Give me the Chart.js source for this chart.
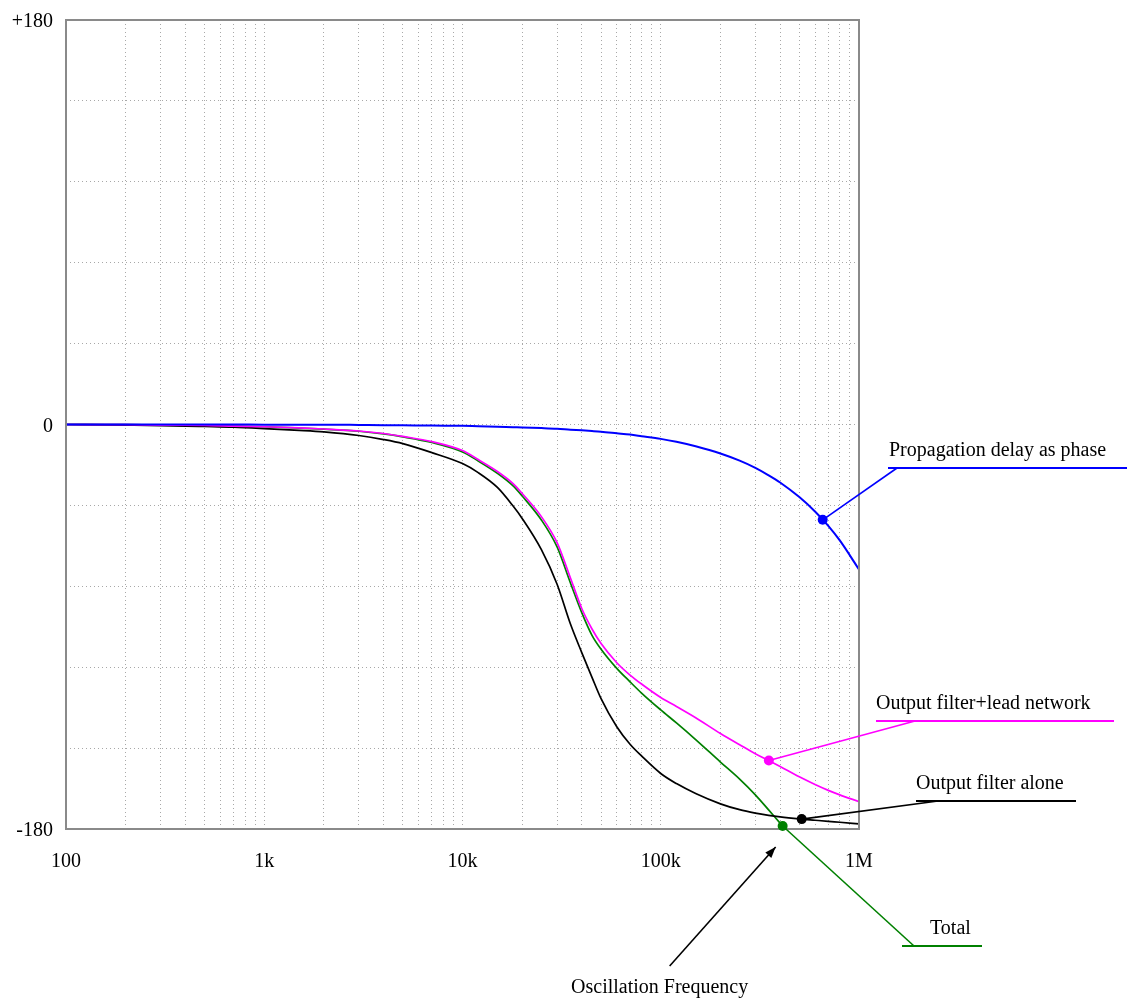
<!DOCTYPE html>
<html>
<head>
<meta charset="utf-8">
<script src="https://cdn.jsdelivr.net/npm/chart.js@4.4.1/dist/chart.umd.min.js"></script>
<style>
  html, body { margin: 0; padding: 0; background: #fff; }
  canvas { display: block; }
</style>
</head>
<body>
<canvas id="phase" width="1136" height="1001"></canvas>
<script>
// Frequency points (Hz) shared by all phase curves
const freq = [100, 200, 300, 500, 700, 1e3, 1.5e3, 2e3, 3e3, 4e3, 5e3, 7e3,
  1e4, 1.2e4, 1.5e4, 1.8e4, 2e4, 2.5e4, 3e4, 3.5e4, 4e4, 4.5e4, 5e4, 6e4, 7e4, 8e4,
  1e5, 1.2e5, 1.5e5, 2e5, 2.5e5, 3e5, 3.5e5, 4e5, 5e5, 6e5, 7e5, 8e5, 1e6];

// Phase in degrees
const phaseDelay = [0, 0, 0, 0, 0, -0.1, -0.1, -0.1, -0.2, -0.3, -0.3, -0.5,
  -0.6, -0.8, -1.0, -1.2, -1.3, -1.6, -1.9, -2.3, -2.6, -2.9, -3.2, -3.9, -4.5, -5.2,
  -6.4, -7.7, -9.7, -12.9, -16.1, -19.3, -22.6, -25.8, -32.3, -38.7, -45.1, -51.6, -64.5];

const phaseFilterLead = [0, -0.1, -0.3, -0.4, -0.7, -1.0, -1.5, -2.0, -2.9, -4.0, -5.3, -7.6,
  -11.6, -15.6, -20.9, -26.3, -30.7, -41, -52.6, -68.2, -82, -91, -97.5, -106, -111.5, -115.5,
  -121.5, -125.5, -130.5, -137.5, -142.5, -146.5, -149.5, -152.2, -156.8, -160.2, -162.8, -164.8, -167.8];

const phaseFilter = [0, -0.3, -0.5, -0.9, -1.2, -1.8, -2.6, -3.3, -4.9, -6.7, -8.5, -12.5,
  -17.4, -21.4, -28, -36.3, -41.8, -55.7, -71.1, -88.7, -101.6, -112.5, -122, -134.5, -142.3, -147.5,
  -155.3, -159.8, -164.2, -168.8, -171.4, -172.9, -173.9, -174.6, -175.5, -176.1, -176.6, -177, -177.7];

const phaseTotal = [0, -0.1, -0.3, -0.4, -0.7, -1.0, -1.6, -2.1, -3.0, -4.2, -5.5, -8.0,
  -12.2, -16.2, -21.7, -27.3, -31.8, -42.5, -54.5, -70.4, -83.8, -93.8, -100, -108.5, -114.5, -119.5,
  -127, -132.8, -140.2, -150.2, -157.8, -164.8, -171.5, -177.4, -187, null, null, null, null];

// Axis labels
const xTickValues = [100, 1e3, 1e4, 1e5, 1e6];
const xTickText = ['100', '1k', '10k', '100k', '1M'];
const yTickValues = [-180, 0, 180];
const yTickText = ['-180', '0', '+180'];

// Callout labels and the frequency each one marks on its curve
const seriesNames = ['Propagation delay as phase', 'Output filter+lead network', 'Output filter alone', 'Total'];
const seriesColors = ['#0000ff', '#ff00ff', '#000000', '#008000'];
const markerFreq = [656000, 351000, 514000, 412000];

const seriesData = [phaseDelay, phaseFilterLead, phaseFilter, phaseTotal];

function toPoints(values) {
  const pts = [];
  values.forEach((v, i) => { if (v !== null) pts.push({ x: freq[i], y: v }); });
  return pts;
}

// phase of a series at frequency f (linear in log f between points)
function phaseAt(values, f) {
  const lf = Math.log10(f);
  for (let i = 0; i < freq.length - 1; i++) {
    if (values[i] === null || values[i + 1] === null) continue;
    const a = Math.log10(freq[i]), b = Math.log10(freq[i + 1]);
    if (lf >= a && lf <= b) return values[i] + (values[i + 1] - values[i]) * (lf - a) / (b - a);
  }
  return null;
}

// minor grid: 1..9 per decade
const gridFreqs = [];
for (let d = 100; d < 1e6; d *= 10) for (let m = 1; m < 10; m++) gridFreqs.push(d * m);
gridFreqs.push(1e6);

const FONT = 'Liberation Serif, Times New Roman, serif';

const callouts = {
  id: 'callouts',
  afterDatasetsDraw(chart) {
    const { ctx, chartArea: a, scales: { x, y } } = chart;
    ctx.save();
    // plot frame
    ctx.strokeStyle = '#8a8a8a';
    ctx.lineWidth = 2;
    ctx.strokeRect(a.left, a.top, a.right - a.left, a.bottom - a.top);

    // shelf layout relative to the plot's right / top edge
    const shelves = [
      { dy: 448, x0: 29, x1: 268, join: 38, tx: 30 },
      { dy: 701, x0: 17, x1: 255, join: 56, tx: 17 },
      { dy: 781, x0: 57, x1: 217, join: 79, tx: 57 },
      { dy: 926, x0: 43, x1: 123, join: 55, tx: 71 }
    ];
    ctx.font = '20px ' + FONT;
    ctx.textBaseline = 'alphabetic';
    ctx.textAlign = 'left';
    seriesNames.forEach((name, i) => {
      const s = shelves[i];
      const px = x.getPixelForValue(markerFreq[i]);
      const py = y.getPixelForValue(phaseAt(seriesData[i], markerFreq[i]));
      const sy = a.top + s.dy;
      ctx.strokeStyle = seriesColors[i];
      ctx.lineWidth = 1.6;
      ctx.beginPath();
      ctx.moveTo(px, py);
      ctx.lineTo(a.right + s.join, sy);
      ctx.stroke();
      ctx.lineWidth = 2;
      ctx.beginPath();
      ctx.moveTo(a.right + s.x0, sy);
      ctx.lineTo(a.right + s.x1, sy);
      ctx.stroke();
      ctx.fillStyle = seriesColors[i];
      ctx.beginPath();
      ctx.arc(px, py, 5, 0, Math.PI * 2);
      ctx.fill();
      ctx.fillStyle = '#000';
      ctx.fillText(name, a.right + s.tx, sy - 12);
    });

    // oscillation frequency pointer
    const gx = x.getPixelForValue(markerFreq[3]);
    const gy = y.getPixelForValue(phaseAt(phaseTotal, markerFreq[3]));
    const tip = { x: gx - 7, y: gy + 21 };
    const tail = { x: gx - 113, y: gy + 140 };
    ctx.strokeStyle = '#000';
    ctx.fillStyle = '#000';
    ctx.lineWidth = 1.6;
    ctx.beginPath();
    ctx.moveTo(tail.x, tail.y);
    ctx.lineTo(tip.x, tip.y);
    ctx.stroke();
    const ang = Math.atan2(tip.y - tail.y, tip.x - tail.x);
    ctx.beginPath();
    ctx.moveTo(tip.x, tip.y);
    ctx.lineTo(tip.x - 11 * Math.cos(ang) + 4 * Math.sin(ang), tip.y - 11 * Math.sin(ang) - 4 * Math.cos(ang));
    ctx.lineTo(tip.x - 11 * Math.cos(ang) - 4 * Math.sin(ang), tip.y - 11 * Math.sin(ang) + 4 * Math.cos(ang));
    ctx.closePath();
    ctx.fill();
    ctx.textAlign = 'center';
    ctx.fillText('Oscillation Frequency', tail.x - 10, tail.y + 27);
    ctx.restore();
  }
};

Chart.defaults.font.family = FONT;
Chart.defaults.font.size = 20;
Chart.defaults.color = '#000';

new Chart(document.getElementById('phase'), {
  type: 'line',
  data: {
    datasets: seriesNames.map((name, i) => ({
      label: name,
      data: toPoints(seriesData[i]),
      borderColor: seriesColors[i],
      borderWidth: i === 0 ? 2 : 1.7,
      pointRadius: 0,
      fill: false,
      cubicInterpolationMode: 'monotone',
      spanGaps: false
    }))
  },
  options: {
    responsive: false,
    animation: false,
    devicePixelRatio: 1,
    layout: { padding: { left: 0, top: 20, right: 277, bottom: 132 } },
    plugins: { legend: { display: false }, tooltip: { enabled: false } },
    scales: {
      x: {
        type: 'logarithmic',
        min: 100,
        max: 1e6,
        afterBuildTicks(scale) { scale.ticks = gridFreqs.map(v => ({ value: v })); },
        afterFit(scale) { scale.height = 40; scale.paddingLeft = 0; scale.paddingRight = 0; },
        ticks: {
          autoSkip: false,
          maxRotation: 0,
          padding: 21,
          callback(v) { const k = xTickValues.indexOf(v); return k >= 0 ? xTickText[k] : ''; }
        },
        grid: { color: '#a8a8a8', lineWidth: 1, drawTicks: false },
        border: { display: false, dash: [1, 3] }
      },
      y: {
        min: -180,
        max: 180,
        afterBuildTicks(scale) {
          const t = [];
          for (let v = -180; v <= 180; v += 36) t.push({ value: v });
          scale.ticks = t;
        },
        afterFit(scale) { scale.width = 66; scale.paddingTop = 0; scale.paddingBottom = 0; },
        ticks: {
          padding: 13,
          labelOffset: 2,
          callback(v) { const k = yTickValues.indexOf(v); return k >= 0 ? yTickText[k] : ''; }
        },
        grid: { color: '#a8a8a8', lineWidth: 1, drawTicks: false },
        border: { display: false, dash: [1, 3] }
      }
    }
  },
  plugins: [callouts]
});
</script>
</body>
</html>
